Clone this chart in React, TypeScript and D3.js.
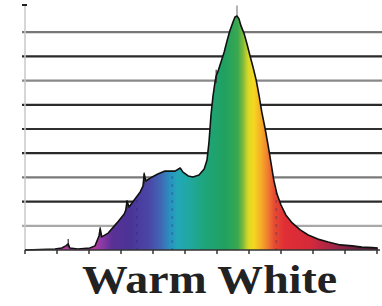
import React from "react";
import * as d3 from "d3";

const W = 382;
const H = 306;

// spectrum samples: wavelength (nm) and relative intensity (0..10)
const wavelengths = [
  300, 337.5, 346, 351, 354, 356, 366, 381, 387.5, 392.5, 394, 396, 404, 415, 424, 426, 427.5, 430,
  437.5, 444, 447.5, 449, 451, 459, 466, 475, 487.5, 494, 497.5, 504, 510, 517.5, 524, 527.5, 530,
  532.5, 535, 537.5, 539, 541, 545, 549, 552.5, 556, 560, 562.5, 565, 567.5, 570, 574, 577.5, 581,
  585, 589, 592.5, 596, 600, 604, 607.5, 611, 615, 620, 626, 634, 644, 654, 666, 679, 694, 709, 721,
  734, 741,
];
const intensity = [
  0, 0.04, 0.08, 0.17, 0.25, 0.08, 0.04, 0.08, 0.17, 0.58, 0.87, 0.54, 0.7, 1.12, 1.49, 1.65, 2.02,
  1.78, 2.11, 2.4, 2.64, 3.14, 2.85, 3.02, 3.14, 3.26, 3.26, 3.39, 3.22, 3.06, 3.02, 3.1, 3.35, 3.72,
  4.46, 5.58, 6.36, 6.94, 7.19, 7.36, 7.77, 8.18, 8.64, 9.05, 9.42, 9.63, 9.67, 9.55, 9.26, 8.93,
  8.51, 8.06, 7.56, 7.02, 6.4, 5.7, 5.04, 4.3, 3.6, 2.89, 2.31, 1.86, 1.45, 1.12, 0.83, 0.62, 0.45,
  0.33, 0.21, 0.17, 0.12, 0.1, 0.08,
];

// thin spike lines (wavelength, top value, base value)
const spikeWl = [565, 539, 449, 427.5, 394, 354];
const spikeTop = [10.1, 7.45, 3.2, 2.05, 0.95, 0.45];
const spikeBase = [9.67, 6.9, 2.7, 1.7, 0.55, 0.1];

// gradient stops by wavelength
const stopWl = [387.5, 396, 409, 431, 456, 471, 481, 491, 506, 525, 550, 566, 572, 579, 586, 596, 604, 612, 625, 656, 687, 719];
const stopColor = [
  "#b43aa0", "#8a3aa5", "#5a3096", "#4a3496", "#4a48a8", "#3f6ab5", "#2a90c0", "#22a8b8",
  "#20a8a0", "#1ea57a", "#20a060", "#3aa850", "#7ab83c", "#d8d828", "#f5d820", "#f5a828",
  "#f07a30", "#e54a32", "#e02e35", "#d52a3a", "#a02448", "#602040",
];

const gridLevels = [1, 2, 3, 4, 5, 6, 7, 8, 9];
const gridShade = ["#a8a8a8", "#2a2a2a", "#7a7a7a", "#2a2a2a", "#303030", "#2a2a2a", "#888", "#2a2a2a", "#777"];
const xTicks = d3.range(300, 741, 40);
const dashWl = [440, 484, 614];
const title = "Warm White";

export default function App() {
  const x = d3.scaleLinear().domain([300, 740]).range([25, 377]);
  const y = d3.scaleLinear().domain([0, 10]).range([250, 8]);
  const pts = wavelengths.map((w, i) => [w, intensity[i]] as [number, number]);
  const area = d3
    .area<[number, number]>()
    .x((d) => x(d[0]))
    .y0(y(0))
    .y1((d) => y(d[1]));
  const line = d3
    .line<[number, number]>()
    .x((d) => x(d[0]))
    .y((d) => y(d[1]));
  const x0 = x(300);
  const x1 = x(740);
  return (
    <svg
      width={W}
      height={H}
      style={{ position: "absolute", left: 0, top: 0, background: "#fff" }}
    >
      <defs>
        <linearGradient id="spec" gradientUnits="userSpaceOnUse" x1={x0} x2={x1} y1={0} y2={0}>
          {stopWl.map((w, i) => (
            <stop key={i} offset={(x(w) - x0) / (x1 - x0)} stopColor={stopColor[i]} />
          ))}
        </linearGradient>
        <clipPath id="clipA">
          <path d={area(pts) || ""} />
        </clipPath>
      </defs>
      {gridLevels.map((g, i) => (
        <line key={g} x1={22} x2={382} y1={y(g)} y2={y(g)} stroke={gridShade[i]} strokeWidth={2.2} />
      ))}
      <line x1={25} x2={25} y1={5} y2={250} stroke="#c8c8c8" strokeWidth={1.5} />
      <line x1={22} x2={27} y1={5} y2={5} stroke="#222" strokeWidth={2} />
      <path d={area(pts) || ""} fill="url(#spec)" />
      <g clipPath="url(#clipA)">
        {dashWl.map((w) => (
          <line
            key={w}
            x1={x(w)}
            x2={x(w)}
            y1={0}
            y2={250}
            stroke="#1a1a50"
            strokeOpacity={0.4}
            strokeWidth={1}
            strokeDasharray="3,5"
          />
        ))}
      </g>
      {spikeWl.map((w, i) => (
        <line
          key={w}
          x1={x(w)}
          x2={x(w)}
          y1={y(spikeTop[i])}
          y2={y(spikeBase[i])}
          stroke={i === 0 ? "#999" : "#333"}
          strokeWidth={i === 0 ? 1.5 : 1.2}
        />
      ))}
      <path d={line(pts) || ""} fill="none" stroke="#111" strokeWidth={1.6} strokeLinejoin="round" />
      <line x1={25} x2={380} y1={250} y2={250} stroke="#333" strokeWidth={1.5} />
      {xTicks.map((t) => (
        <line key={t} x1={x(t)} x2={x(t)} y1={250} y2={254} stroke="#333" strokeWidth={1.5} />
      ))}
      <text
        x={82}
        y={293}
        fontFamily="'Liberation Serif', 'Times New Roman', serif"
        fontWeight="bold"
        fontSize={39}
        fill="#222"
        textLength={255}
        lengthAdjust="spacingAndGlyphs"
      >
        {title}
      </text>
    </svg>
  );
}
